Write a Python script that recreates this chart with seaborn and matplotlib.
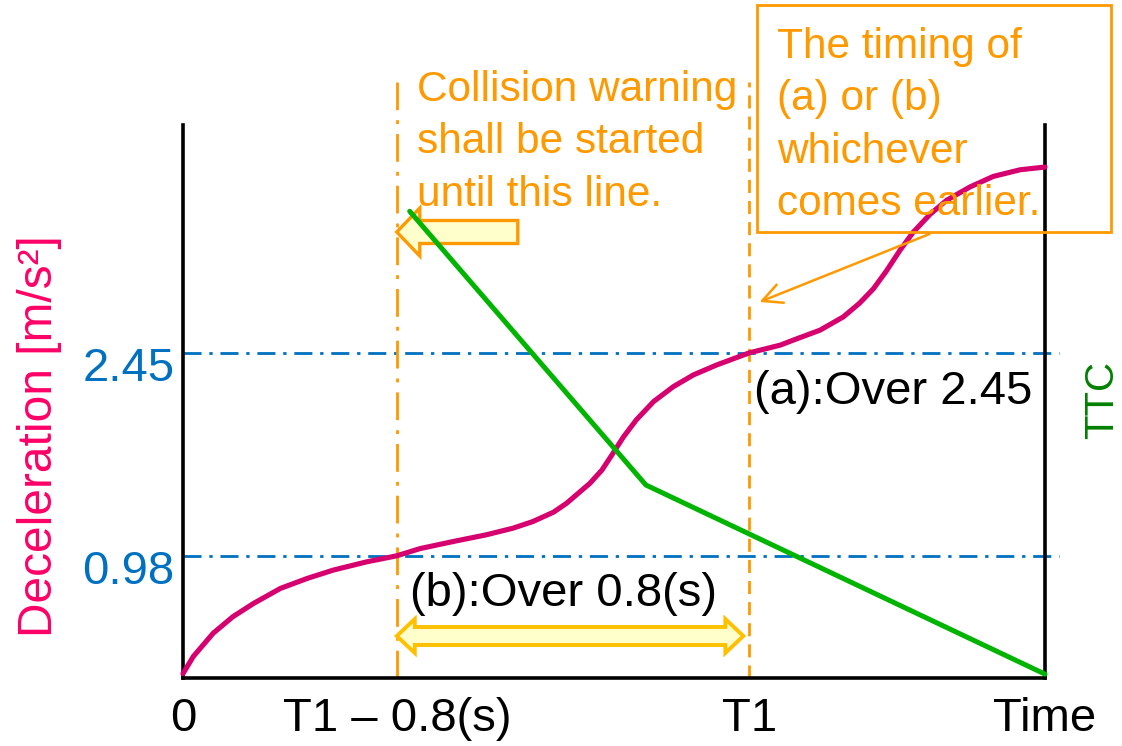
import matplotlib
matplotlib.use("Agg")
import matplotlib.pyplot as plt
import matplotlib.transforms as mtransforms
from matplotlib.patches import Polygon, Rectangle
import seaborn as sns

# schematic units: time 0..100 along the axis, level 0..100 up the axis
time_ticks = [0, 24.8, 65.7, 100]
time_labels = ["0", "T1 – 0.8(s)", "T1", "Time"]
level_ticks = [22.1, 58.8]
level_labels = ["0.98", "2.45"]

decel_t = [0, 1.2, 3.5, 5.8, 8.2, 11.3, 14.4, 17.4, 21.3, 24.8, 27.5, 31.4,
           35.2, 38.3, 40.6, 43.0, 44.5, 45.7, 47.2, 48.6, 49.7, 51.1, 52.6,
           54.6, 56.9, 59.2, 61.9, 65.7, 69.3, 70.8, 73.9, 76.6, 78.5, 80.1,
           81.6, 83.2, 84.7, 86.7, 88.6, 91.3, 94.0, 97.1, 100]
decel_v = [0.8, 3.9, 8.1, 11.1, 13.5, 16.2, 18.0, 19.5, 21.0, 22.1, 23.4, 24.7,
           25.9, 27.1, 28.3, 30.0, 31.6, 33.2, 35.2, 37.6, 40.2, 43.6, 46.7,
           50.0, 52.7, 54.8, 56.6, 58.8, 60.2, 61.1, 62.9, 65.3, 67.8, 70.4,
           73.6, 77.4, 80.6, 83.9, 86.4, 88.8, 90.7, 91.9, 92.4]

ttc_t = [26.3, 53.7, 100]
ttc_v = [84.4, 34.9, 0.7]

T1_MINUS = time_ticks[1]
T1 = time_ticks[2]

PINK_LINE = "#D6006F"
PINK_TEXT = "#FF0066"
GREEN_LINE = "#00B400"
GREEN_TEXT = "#008000"
BLUE = "#0070C0"
ORANGE = "#FF9900"
GOLD = "#FFC000"
PALE = "#FFFFCC"

W, H = 1122, 746
AX_L, AX_R, AX_B, AX_T = 183, 1045, 678, 125
UX = 100 / (AX_R - AX_L)   # data units per pixel
UY = 100 / (AX_B - AX_T)

sns.set_theme(style="white")
plt.rcParams["font.family"] = ["Liberation Sans", "DejaVu Sans"]

fig = plt.figure(figsize=(W / 100, H / 100), dpi=100)
ax = fig.add_axes([AX_L / W, (H - AX_B) / H, (AX_R - AX_L) / W, (AX_B - AX_T) / H])
ax2 = ax.twinx()

for a in (ax, ax2):
    a.set_xlim(0, 100)
    a.set_ylim(0, 100)

# reference levels and time markers
for lv in level_ticks:
    ax.plot([0, 101.6], [lv, lv], color=BLUE, lw=2, dashes=(6.5, 2.8, 1.2, 2.8),
            clip_on=False, zorder=1)
ax.plot([T1_MINUS, T1_MINUS], [0, 107.7], color=ORANGE, lw=2,
        dashes=(10, 3.6, 1.4, 3.6), clip_on=False, zorder=1)
ax.plot([T1, T1], [0, 107.7], color=ORANGE, lw=2, dashes=(4.7, 2.9),
        clip_on=False, zorder=1)

sns.lineplot(x=decel_t, y=decel_v, sort=False, ax=ax, color=PINK_LINE, lw=3.7,
             clip_on=False, zorder=3)
sns.lineplot(x=ttc_t, y=ttc_v, sort=False, ax=ax2, color=GREEN_LINE, lw=3.6,
             clip_on=False, zorder=3)

# axes styling
ax.spines["top"].set_visible(False)
for s in ("left", "right", "bottom"):
    ax.spines[s].set_color("black")
    ax.spines[s].set_linewidth(2.6)
for s in ax2.spines.values():
    s.set_visible(False)

ax.set_xticks(time_ticks, time_labels)
ax.set_yticks(level_ticks, level_labels)
ax.tick_params(axis="x", length=0, pad=14, labelsize=34, labelcolor="black")
ax.tick_params(axis="y", length=0, pad=6, labelsize=34, labelcolor=BLUE)
shift = mtransforms.ScaledTranslation(0, -0.11, fig.dpi_scale_trans)
for lab in ax.get_yticklabels():
    lab.set_transform(lab.get_transform() + shift)

ax.set_ylabel("Deceleration [m/s²]", color=PINK_TEXT, fontsize=34.5)
ax.yaxis.set_label_coords(-0.140, 0.437)
ax2.set_yticks([])
ax2.set_ylabel("TTC", color=GREEN_TEXT, fontsize=29)
ax2.yaxis.set_label_coords(1.044, 0.503)


def block_arrow(x0, x1, y, head_len, head_half, body_half, double, **kw):
    hl, hh, bh = head_len * UX, head_half * UY, body_half * UY
    pts = [(x0, y), (x0 + hl, y + hh), (x0 + hl, y + bh)]
    if double:
        pts += [(x1 - hl, y + bh), (x1 - hl, y + hh), (x1, y),
                (x1 - hl, y - hh), (x1 - hl, y - bh)]
    else:
        pts += [(x1, y + bh), (x1, y - bh)]
    pts += [(x0 + hl, y - bh), (x0 + hl, y - hh)]
    ax.add_patch(Polygon(pts, closed=True, clip_on=False, joinstyle="miter", **kw))


# "until this line" arrow and the 0.8 s span
block_arrow(T1_MINUS, T1_MINUS + 121 * UX, (AX_B - 232) * UY, 23, 24, 11.5, False,
            fc=PALE, ec=ORANGE, lw=2.4, zorder=4)
block_arrow(T1_MINUS, T1 - 6 * UX, (AX_B - 636) * UY, 18, 17, 9, True,
            fc=PALE, ec=GOLD, lw=2.8, zorder=4)

ax.text(T1_MINUS + 13 * UX, (AX_B - 572) * UY, "(b):Over 0.8(s)", fontsize=34,
        color="black", va="top", ha="left")
ax.text(T1 + 5 * UX, (AX_B - 370) * UY, "(a):Over 2.45", fontsize=34,
        color="black", va="top", ha="left")

fig.text((T1_MINUS / UX + AX_L + 20) / W, 1 - 70 / H,
         "Collision warning\nshall be started\nuntil this line.",
         fontsize=30.5, color=ORANGE, va="top", ha="left", linespacing=1.4)

fig.add_artist(Rectangle((757 / W, 1 - 232 / H), 354 / W, 227 / H,
                         transform=fig.transFigure, fill=False, ec=ORANGE, lw=2))
fig.text(777 / W, 1 - 27 / H, "The timing of\n(a) or (b)\nwhichever\ncomes earlier.",
         fontsize=30.5, color=ORANGE, va="top", ha="left", linespacing=1.4)

ax.annotate("", xy=((757 - AX_L) * UX, (AX_B - 303) * UY),
            xytext=((932 - AX_L) * UX, (AX_B - 233) * UY),
            arrowprops=dict(arrowstyle="->,head_length=1.4,head_width=0.7",
                            color=ORANGE, lw=1.8, mutation_scale=10),
            annotation_clip=False)

fig.savefig("out.png", dpi=100)
